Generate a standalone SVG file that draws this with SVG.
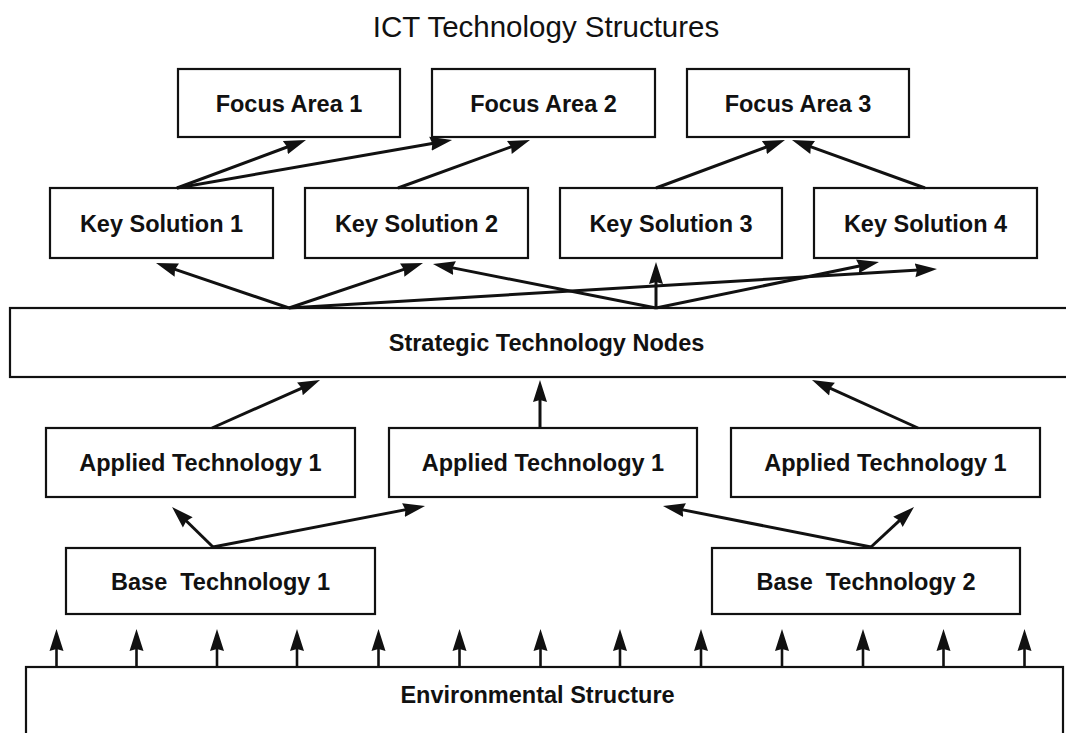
<svg xmlns="http://www.w3.org/2000/svg" width="1066" height="733" viewBox="0 0 1066 733">
<style>
.box{fill:#fff;stroke:#111;stroke-width:2.2}
.lbl{font-family:"Liberation Sans",Arial,sans-serif;font-weight:bold;font-size:23.5px;fill:#111;text-anchor:middle;white-space:pre}
.title{font-family:"Liberation Sans",Arial,sans-serif;font-size:29.5px;fill:#111;text-anchor:middle}
.c{stroke:#111;stroke-width:3;fill:none;marker-end:url(#ah)}
.v{stroke:#111;stroke-width:2.6;fill:none;marker-end:url(#ah)}
</style>
<defs>
<marker id="ah" markerUnits="userSpaceOnUse" markerWidth="24" markerHeight="16" viewBox="0 -8 24 16" refX="12" refY="0" orient="auto">
<path d="M0,-7 L22,0 L0,7 L2,0 z" fill="#111"/>
</marker>
</defs>
<rect width="1066" height="733" fill="#fff"/>
<text class="title" x="546" y="37">ICT Technology Structures</text>

<g id="focus1"><rect class="box" x="178" y="69" width="222" height="68"/><text class="lbl" x="289" y="111.5">Focus Area 1</text></g>
<g id="focus2"><rect class="box" x="432" y="69" width="223" height="68"/><text class="lbl" x="543.5" y="111.5">Focus Area 2</text></g>
<g id="focus3"><rect class="box" x="687" y="69" width="222" height="68"/><text class="lbl" x="798" y="111.5">Focus Area 3</text></g>

<g id="key1"><rect class="box" x="50" y="188" width="223" height="70"/><text class="lbl" x="161.5" y="231.5">Key Solution 1</text></g>
<g id="key2"><rect class="box" x="305" y="188" width="223" height="70"/><text class="lbl" x="416.5" y="231.5">Key Solution 2</text></g>
<g id="key3"><rect class="box" x="560" y="188" width="222" height="70"/><text class="lbl" x="671" y="231.5">Key Solution 3</text></g>
<g id="key4"><rect class="box" x="814" y="188" width="223" height="70"/><text class="lbl" x="925.5" y="231.5">Key Solution 4</text></g>

<g id="strategic"><rect class="box" x="10" y="308" width="1070" height="69"/><text class="lbl" x="546.5" y="351">Strategic Technology Nodes</text></g>

<g id="applied1"><rect class="box" x="46" y="428" width="309" height="69"/><text class="lbl" x="200.5" y="471">Applied Technology 1</text></g>
<g id="applied2"><rect class="box" x="389" y="428" width="308" height="69"/><text class="lbl" x="543" y="471">Applied Technology 1</text></g>
<g id="applied3"><rect class="box" x="731" y="428" width="309" height="69"/><text class="lbl" x="885.5" y="471">Applied Technology 1</text></g>

<g id="base1"><rect class="box" x="66" y="548" width="309" height="66"/><text class="lbl" x="220.5" y="589.5">Base  Technology 1</text></g>
<g id="base2"><rect class="box" x="712" y="548" width="308" height="66"/><text class="lbl" x="866" y="589.5">Base  Technology 2</text></g>

<g id="environment"><rect class="box" x="26" y="667" width="1037" height="80"/><text class="lbl" x="537.5" y="703">Environmental Structure</text></g>

<g id="connectors">
<path class="c" d="M177,188 L296.6,143.5"/>
<path class="c" d="M177,188 L442.2,141.7"/>
<path class="c" d="M398,188 L520.6,143.4"/>
<path class="c" d="M656,188 L775.6,143.5"/>
<path class="c" d="M925,188 L801.4,143.4"/>

<path class="c" d="M289,308 L165.5,266.2"/>
<path class="c" d="M289,308 L413.5,266.2"/>
<path class="c" d="M289,308 L927,269.6"/>
<path class="c" d="M656,308 L442.8,265.9"/>
<path class="c" d="M656,308 L656,272"/>
<path class="c" d="M656,308 L869.2,264"/>

<path class="c" d="M212,428 L310.9,384.1"/>
<path class="c" d="M540,428 L540,390"/>
<path class="c" d="M918,428 L821.1,384.1"/>

<path class="c" d="M213,547 L179.2,514"/>
<path class="c" d="M213,547 L415.2,507.9"/>
<path class="c" d="M871,547 L672.8,507.9"/>
<path class="c" d="M871,547 L906.7,513.8"/>

<path class="v" d="M56.5,667 V639"/>
<path class="v" d="M136.5,667 V639"/>
<path class="v" d="M217,667 V639"/>
<path class="v" d="M297,667 V639"/>
<path class="v" d="M378.5,667 V639"/>
<path class="v" d="M459.5,667 V639"/>
<path class="v" d="M540.5,667 V639"/>
<path class="v" d="M620,667 V639"/>
<path class="v" d="M701,667 V639"/>
<path class="v" d="M782,667 V639"/>
<path class="v" d="M863,667 V639"/>
<path class="v" d="M943.5,667 V639"/>
<path class="v" d="M1024.5,667 V639"/>
</g>
</svg>
